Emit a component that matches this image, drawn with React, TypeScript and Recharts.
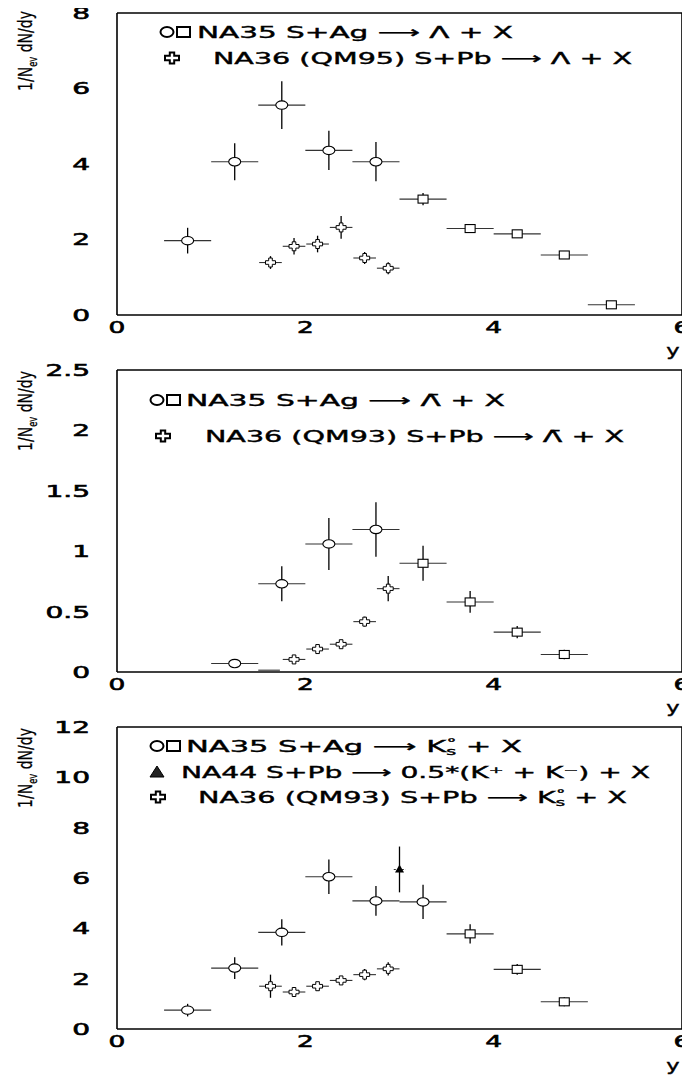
import React from 'react'
import { ScatterChart, Scatter, XAxis, YAxis, ErrorBar } from 'recharts'

const FONT = '"DejaVu Sans", sans-serif'
const W = 690
const PANEL_H = 357

// half widths of the rapidity bins
const na35HalfBin = 0.25
const na36HalfBin = 0.12

// Lambda panel
const lamCircX = [0.75, 1.25, 1.75, 2.25, 2.75]
const lamCircY = [1.97, 4.06, 5.56, 4.36, 4.06]
const lamCircErr = [0.34, 0.49, 0.63, 0.52, 0.52]
const lamSqX = [3.25, 3.75, 4.25, 4.75, 5.25]
const lamSqY = [3.07, 2.29, 2.15, 1.59, 0.27]
const lamSqErr = [0.16, 0.05, 0.05, 0.05, 0.03]
const lamCrossX = [1.63, 1.88, 2.13, 2.38, 2.63, 2.88]
const lamCrossY = [1.39, 1.82, 1.88, 2.32, 1.51, 1.24]
const lamCrossErr = [0.17, 0.22, 0.22, 0.3, 0.16, 0.16]
const lamYTicks = [0, 2, 4, 6, 8]

// anti-Lambda panel
const alamCircX = [1.25, 1.75, 2.25, 2.75]
const alamCircY = [0.07, 0.73, 1.06, 1.18]
const alamCircErr = [0.02, 0.145, 0.215, 0.225]
const alamBareX = [1.615]
const alamBareY = [0.015]
const alamSqX = [3.25, 3.75, 4.25, 4.75]
const alamSqY = [0.9, 0.58, 0.33, 0.145]
const alamSqErr = [0.145, 0.09, 0.05, 0.04]
const alamCrossX = [1.88, 2.13, 2.38, 2.63, 2.88]
const alamCrossY = [0.104, 0.19, 0.23, 0.417, 0.69]
const alamCrossErr = [0.015, 0.015, 0.02, 0.04, 0.105]
const alamYTicks = [0, 0.5, 1, 1.5, 2, 2.5]

// K0s panel
const kCircX = [0.75, 1.25, 1.75, 2.25, 2.75, 3.25]
const kCircY = [0.75, 2.42, 3.84, 6.05, 5.09, 5.05]
const kCircErr = [0.25, 0.43, 0.52, 0.69, 0.59, 0.68]
const kSqX = [3.75, 4.25, 4.75]
const kSqY = [3.78, 2.37, 1.08]
const kSqErr = [0.38, 0.21, 0.18]
const kCrossX = [1.63, 1.88, 2.13, 2.38, 2.63, 2.88]
const kCrossY = [1.7, 1.47, 1.7, 1.93, 2.16, 2.39]
const kCrossErr = [0.46, 0.06, 0.06, 0.09, 0.22, 0.26]
const kTriX = [3.0]
const kTriY = [6.34]
const kTriErr = [0.91]
const kYTicks = [0, 2, 4, 6, 8, 10, 12]

const xTicks = [0, 2, 4, 6]
const xMinor = [1, 2, 3, 4, 5]

const toRows = (xs: number[], ys: number[], ey: number[] | null, ex: number) =>
  xs.map((x, i) => ({ x, y: ys[i], ey: ey ? ey[i] : 0, ex }))

const Oval = (p: any) => (
  <ellipse cx={p.cx} cy={p.cy} rx={6} ry={4.2} fill="#fff" stroke="#000" strokeWidth={1.1} />
)
const Box = (p: any) => (
  <rect x={p.cx - 5} y={p.cy - 4} width={10} height={8} fill="#fff" stroke="#000" strokeWidth={1.1} />
)
const plusPath = (cx: number, cy: number, a: number, l: number, m: number) =>
  `M${cx - a},${cy - m} h${2 * a} v${m - a} h${l - a} v${2 * a} h${-(l - a)} v${m - a} h${-2 * a} v${-(m - a)} h${-(l - a)} v${-2 * a} h${l - a} Z`
const Plus = (p: any) => (
  <path d={plusPath(p.cx, p.cy, 1.8, 5, 4.5)} fill="#fff" stroke="#000" strokeWidth={1} />
)
const Tri = (p: any) => (
  <path d={`M${p.cx},${p.cy - 5} L${p.cx + 4.5},${p.cy + 3} L${p.cx - 4.5},${p.cy + 3} Z`} fill="#000" />
)
const Bare = () => <g />

interface Series {
  name: string
  data: { x: number; y: number; ey: number; ex: number }[]
  shape: any
  dash?: string
}

const lamSeries: Series[] = [
  { name: 'na35c', data: toRows(lamCircX, lamCircY, lamCircErr, na35HalfBin), shape: Oval },
  { name: 'na35s', data: toRows(lamSqX, lamSqY, lamSqErr, na35HalfBin), shape: Box },
  { name: 'na36', data: toRows(lamCrossX, lamCrossY, lamCrossErr, na36HalfBin), shape: Plus },
]
const alamSeries: Series[] = [
  { name: 'na35c', data: toRows(alamCircX, alamCircY, alamCircErr, na35HalfBin), shape: Oval },
  { name: 'bare', data: toRows(alamBareX, alamBareY, null, 0.115), shape: Bare },
  { name: 'na35s', data: toRows(alamSqX, alamSqY, alamSqErr, na35HalfBin), shape: Box },
  { name: 'na36', data: toRows(alamCrossX, alamCrossY, alamCrossErr, na36HalfBin), shape: Plus },
]
const kSeries: Series[] = [
  { name: 'na35c', data: toRows(kCircX, kCircY, kCircErr, na35HalfBin), shape: Oval },
  { name: 'na35s', data: toRows(kSqX, kSqY, kSqErr, na35HalfBin), shape: Box },
  { name: 'na36', data: toRows(kCrossX, kCrossY, kCrossErr, na36HalfBin), shape: Plus },
  { name: 'na44', data: toRows(kTriX, kTriY, kTriErr, 0.06), shape: Tri, dash: '2 2' },
]

const axisStyle = { stroke: '#000', strokeWidth: 1.6 }
const tickStyle = { stroke: '#000', strokeWidth: 1 }

const XTick = (p: any) => (
  <text
    transform={`translate(${p.x},${p.y}) scale(1.6,1)`}
    textAnchor="middle"
    dy="0.36em"
    fontFamily={FONT}
    fontSize={16.5}
    fill="#000"
    stroke="#000"
    strokeWidth={0.6}
  >
    {p.payload.value}
  </text>
)

const YTick = (p: any) => (
  <text
    transform={`translate(${p.x},${p.y}) scale(1.7,1)`}
    textAnchor="end"
    dy="0.36em"
    fontFamily={FONT}
    fontSize={16.5}
    fill="#000"
    stroke="#000"
    strokeWidth={0.6}
  >
    {p.payload.value}
  </text>
)

function Panel({ top, yMax, yTicks, series }: { top: number; yMax: number; yTicks: number[]; series: Series[] }) {
  const yDomain: [number, number] = [0, yMax]
  return (
    <div style={{ position: 'absolute', left: 0, top }}>
      <ScatterChart width={W} height={PANEL_H} margin={{ top: 13, right: 8, bottom: 12, left: 0 }}>
        <XAxis xAxisId="x" type="number" dataKey="x" domain={[0, 6]} ticks={xTicks} allowDataOverflow
          tickLine={false} tickSize={0} tickMargin={12} height={30} axisLine={axisStyle} tick={<XTick />} />
        <XAxis xAxisId="xt" orientation="top" mirror type="number" domain={[0, 6]} ticks={xMinor} allowDataOverflow
          tick={false} tickSize={6} height={1} axisLine={axisStyle} tickLine={tickStyle} />
        <XAxis xAxisId="xb" orientation="bottom" mirror type="number" domain={[0, 6]} ticks={xMinor} allowDataOverflow
          tick={false} tickSize={4} height={1} axisLine={false} tickLine={tickStyle} />
        <YAxis yAxisId="y" type="number" dataKey="y" domain={yDomain} ticks={yTicks} allowDataOverflow
          tickLine={false} tickSize={0} tickMargin={27} width={117} axisLine={axisStyle} tick={<YTick />} />
        <YAxis yAxisId="yl" mirror type="number" domain={yDomain} ticks={yTicks} allowDataOverflow
          tick={false} tickSize={6} width={1} axisLine={false} tickLine={tickStyle} />
        <YAxis yAxisId="yr" orientation="right" mirror type="number" domain={yDomain} ticks={yTicks} allowDataOverflow
          tick={false} tickSize={6} width={1} axisLine={axisStyle} tickLine={tickStyle} />
        {series.map((s) => (
          <Scatter key={s.name} name={s.name} xAxisId="x" yAxisId="y" data={s.data} shape={s.shape} isAnimationActive={false}>
            <ErrorBar dataKey="ex" direction="x" width={0} stroke="#333" strokeWidth={1.1}
              strokeDasharray={s.dash} isAnimationActive={false} />
            <ErrorBar dataKey="ey" direction="y" width={0} stroke="#000" strokeWidth={1.3} isAnimationActive={false} />
          </Scatter>
        ))}
      </ScatterChart>
    </div>
  )
}

const LegText = ({ x, y, len, children }: { x: number; y: number; len: number; children: React.ReactNode }) => (
  <text x={x} y={y} textLength={len} lengthAdjust="spacingAndGlyphs" fontFamily={FONT} fontSize={16}
    fill="#000" stroke="#000" strokeWidth={0.4}>
    {children}
  </text>
)

const OvalBox = ({ x, y }: { x: number; y: number }) => (
  <g fill="none" stroke="#000" strokeWidth={2}>
    <ellipse cx={x + 7} cy={y} rx={6.5} ry={5} />
    <rect x={x + 17} y={y - 5} width={13} height={10} />
  </g>
)
const PlusIcon = ({ x, y }: { x: number; y: number }) => (
  <path d={plusPath(x + 7, y, 2.2, 7, 5.5)} fill="none" stroke="#000" strokeWidth={2} />
)
const TriIcon = ({ x, y }: { x: number; y: number }) => (
  <path d={`M${x + 7},${y - 6} L${x + 14},${y + 5} L${x},${y + 5} Z`} fill="#222" stroke="#000" strokeWidth={1} />
)

// rotated axis title, squeezed along its length like the original
const YTitle = ({ cy }: { cy: number }) => (
  <text transform={`translate(32,${cy}) rotate(-90) scale(0.7,1)`} textAnchor="middle"
    fontFamily={FONT} fontSize={20} fill="#000" stroke="#000" strokeWidth={0.3}>
    1/N<tspan dy={5} fontSize={12}>ev</tspan><tspan dy={-5}> dN/dy</tspan>
  </text>
)

const XTitle = ({ y }: { y: number }) => (
  <text transform={`translate(673,${y}) scale(1.5,1)`} textAnchor="middle" fontFamily={FONT} fontSize={15}
    fill="#000" stroke="#000" strokeWidth={0.4}>
    y
  </text>
)

const Ks = () => (
  <>
    K<tspan dy={3} fontSize={10}>s</tspan><tspan dx={-5} dy={-9} fontSize={10}>°</tspan><tspan dy={6}> + X</tspan>
  </>
)

export default function App() {
  return (
    <div style={{ position: 'relative', width: W, height: 1078, margin: '-8px 0 0 -8px', background: '#fff' }}>
      <Panel top={0} yMax={8} yTicks={lamYTicks} series={lamSeries} />
      <Panel top={357} yMax={2.5} yTicks={alamYTicks} series={alamSeries} />
      <Panel top={714} yMax={12} yTicks={kYTicks} series={kSeries} />
      <svg width={W} height={1078} style={{ position: 'absolute', left: 0, top: 0, pointerEvents: 'none' }}>
        <YTitle cy={51} />
        <YTitle cy={411} />
        <YTitle cy={768} />
        <XTitle y={356} />
        <XTitle y={713} />
        <XTitle y={1071} />

        <OvalBox x={160} y={32} />
        <LegText x={197} y={38} len={316}>NA35 S+Ag ⟶ Λ + X</LegText>
        <PlusIcon x={165} y={58} />
        <LegText x={213} y={64} len={419}>NA36 (QM95)  S+Pb ⟶ Λ + X</LegText>

        <OvalBox x={150} y={400} />
        <LegText x={186} y={406} len={319}>NA35 S+Ag ⟶ Λ̄ + X</LegText>
        <PlusIcon x={156} y={436} />
        <LegText x={205} y={442} len={419}>NA36 (QM93)  S+Pb ⟶ Λ̄ + X</LegText>

        <OvalBox x={150} y={746} />
        <LegText x={186} y={752} len={336}>NA35 S+Ag ⟶ <Ks /></LegText>
        <TriIcon x={150} y={772} />
        <LegText x={181} y={778} len={469}>NA44 S+Pb ⟶ 0.5*(K⁺ + K⁻) + X</LegText>
        <PlusIcon x={151} y={797} />
        <LegText x={198} y={803} len={429}>NA36 (QM93) S+Pb ⟶ <Ks /></LegText>
      </svg>
    </div>
  )
}
